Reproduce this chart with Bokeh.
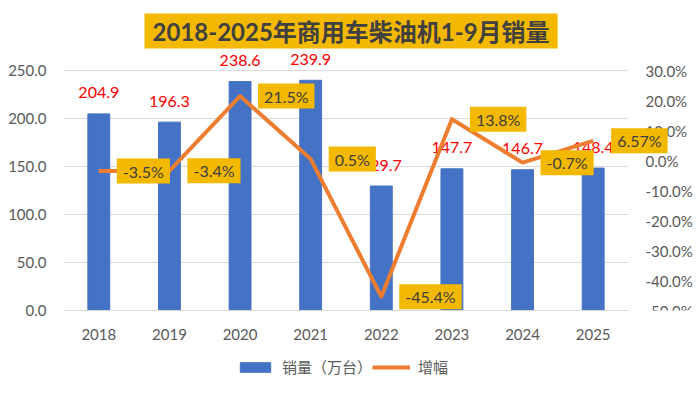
from bokeh.plotting import figure
from bokeh.layouts import column
from bokeh.models import (Range1d, LinearAxis, FixedTicker, NumeralTickFormatter,
                          PrintfTickFormatter, Legend, LegendItem, Label, ColumnDataSource)
from bokeh.core.properties import value
from bokeh.embed import file_html
from bokeh.resources import INLINE

years = ["2018", "2019", "2020", "2021", "2022", "2023", "2024", "2025"]
sales = [204.9, 196.3, 238.6, 239.9, 129.7, 147.7, 146.7, 148.4]
growth = [-3.5, -3.4, 21.5, 0.5, -45.4, 13.8, -0.7, 6.57]
sales_labels = ["204.9", "196.3", "238.6", "239.9", "129.7", "147.7", "146.7", "148.4"]
growth_labels = ["-3.5%", "-3.4%", "21.5%", "0.5%", "-45.4%", "13.8%", "-0.7%", "6.57%"]
left_ticks = [0, 50, 100, 150, 200, 250]
right_ticks = [-50, -40, -30, -20, -10, 0, 10, 20, 30]
series_names = ["销量（万台）", "增幅"]
title_text = "2018-2025年商用车柴油机1-9月销量"

FONT = "Lato, 'Noto Sans CJK SC'"
CJK = "'Noto Sans CJK SC'"
BLUE = "#4472C4"
ORANGE = "#ED7D31"
YELLOW = "#F3B800"
GRAY = "#595959"

n = len(years)
xs = list(range(n))
src = ColumnDataSource(dict(x=xs, sales=sales, growth=growth, sl=sales_labels))

# plot frame reaches the right edge so the last data label is not clipped;
# category area is -0.5 .. n-0.5, extra room on the right for the right axis
p = figure(width=700, height=345, x_range=Range1d(-0.5, n - 0.5 + 1.02),
           y_range=Range1d(0, 272), output_backend="svg", toolbar_location=None,
           min_border_left=63, min_border_right=0, min_border_top=49, min_border_bottom=35)
p.extra_y_ranges = {"pct": Range1d(-50, 30 + 22 * 80 / 250)}
p.outline_line_color = None
p.grid.grid_line_color = None

# horizontal grid lines spanning only the category area
p.segment(x0=-0.5, x1=n - 0.5, y0=left_ticks, y1=left_ticks, line_color="#D9D9D9", line_width=1)

bars = p.vbar(x="x", top="sales", width=0.31, source=src, color=BLUE)
p.text(x="x", y="sales", text="sl", source=src, text_align="center",
       text_baseline="middle", y_offset=-21, text_color="#FF0000",
       text_font=value(FONT), text_font_size="16px")
line = p.line(x="x", y="growth", source=src, y_range_name="pct",
              line_color=ORANGE, line_width=4, line_join="round")
for i, (g, gl) in enumerate(zip(growth, growth_labels)):
    p.add_layout(Label(x=i, y=g, text=gl, y_range_name="pct",
                       text_align="left", text_baseline="middle", x_offset=18,
                       text_color="#404040", text_font=FONT, text_font_size="16px",
                       background_fill_color=YELLOW,
                       padding=dict(left=6, right=6, top=3, bottom=3)))

# axes
yl = p.yaxis[0]
yl.ticker = FixedTicker(ticks=left_ticks)
yl.formatter = NumeralTickFormatter(format="0.0")
yr = LinearAxis(y_range_name="pct", ticker=FixedTicker(ticks=right_ticks),
                formatter=PrintfTickFormatter(format="%.1f%%"), fixed_location=n - 0.5)
p.add_layout(yr, "right")
for ax in (yl, yr):
    ax.axis_line_color = None
    ax.major_tick_line_color = None
    ax.minor_tick_line_color = None
    ax.major_label_text_color = GRAY
    ax.major_label_text_font = FONT
    ax.major_label_text_font_size = "15px"
    ax.major_label_standoff = 11
xa = p.xaxis[0]
xa.ticker = FixedTicker(ticks=xs)
xa.major_label_overrides = {i: y for i, y in zip(xs, years)}
xa.bounds = (-0.5, n - 0.5)
xa.axis_line_color = "#D9D9D9"
xa.major_tick_line_color = None
xa.minor_tick_line_color = None
xa.major_label_text_color = GRAY
xa.major_label_text_font = FONT
xa.major_label_text_font_size = "15px"
xa.major_label_standoff = 12

p.title.text = title_text
p.title.align = "left"
p.title.offset = 81
p.title.text_font = FONT
p.title.text_font_size = "24px"
p.title.text_font_style = "bold"
p.title.text_color = "#404040"
p.title.background_fill_color = YELLOW
p.title.padding = dict(left=8, right=8, top=3, bottom=3)
p.title.standoff = 2

# legend strip below the chart (its renderers lie far outside its own visible range)
lg = figure(width=700, height=53, output_backend="svg", toolbar_location=None,
            min_border=0, x_axis_type=None, y_axis_type=None,
            x_range=Range1d(-1000, -999), y_range=Range1d(-1000, -999))
lg.outline_line_color = None
lg.grid.grid_line_color = None
lb = lg.vbar(x="x", top="sales", width=0.31, source=src, color=BLUE)
ll = lg.line(x="x", y="growth", source=src, line_color=ORANGE, line_width=4)
legend = Legend(items=[LegendItem(label=series_names[0], renderers=[lb]),
                       LegendItem(label=series_names[1], renderers=[ll])],
                orientation="horizontal", location=(173, 21),
                border_line_color=None, background_fill_alpha=0,
                glyph_width=38, glyph_height=12, label_standoff=8, spacing=-1,
                padding=0, margin=0, label_text_font=CJK, label_text_font_size="15px",
                label_text_color=GRAY)
lg.add_layout(legend, "center")

open("out.html", "w").write(file_html(column(p, lg, spacing=0), INLINE))
